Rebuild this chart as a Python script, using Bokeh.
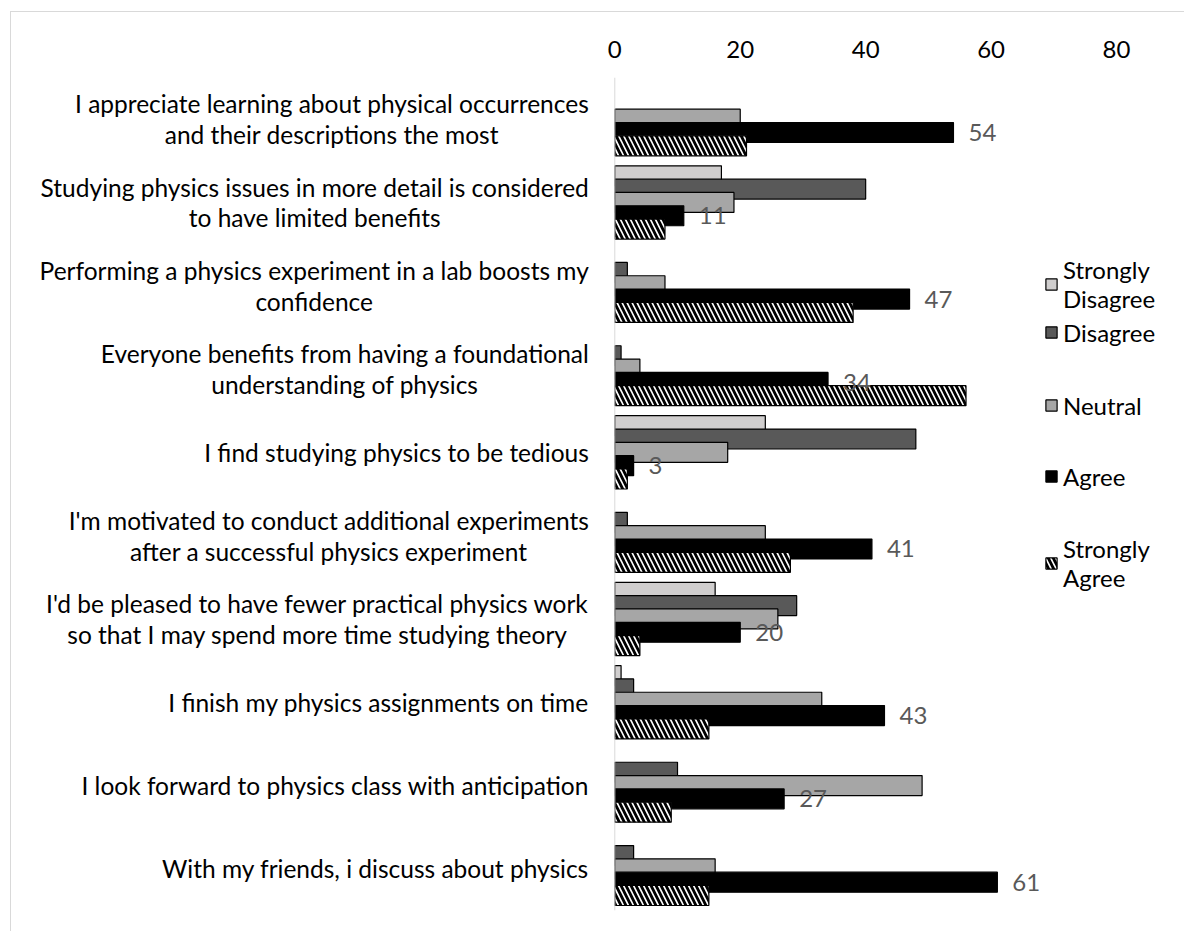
from bokeh.plotting import figure
from bokeh.models import (ColumnDataSource, FactorRange, Range1d, Span, FixedTicker,
                          Legend, LegendItem)
from bokeh.transform import dodge
from bokeh.core.properties import value
from bokeh.embed import file_html
from bokeh.resources import INLINE

# ---------------- data ----------------
categories = [
    "I appreciate learning about physical occurrences\nand their descriptions the most",
    "Studying physics issues in more detail is considered\nto have limited benefits",
    "Performing a physics experiment in a lab boosts my\nconfidence",
    "Everyone benefits from having a foundational\nunderstanding of physics",
    "I find studying physics to be tedious",
    "I'm motivated to conduct additional experiments\nafter a successful physics experiment",
    "I'd be pleased to have fewer practical physics work\nso that I may spend more time studying theory",
    "I finish my physics assignments on time",
    "I look forward to physics class with anticipation",
    "With my friends, i discuss about physics",
]
strongly_disagree = [0, 17, 0, 0, 24, 0, 16, 1, 0, 0]
disagree = [0, 40, 2, 1, 48, 2, 29, 3, 10, 3]
neutral = [20, 19, 8, 4, 18, 24, 26, 33, 49, 16]
agree = [54, 11, 47, 34, 3, 41, 20, 43, 27, 61]
strongly_agree = [21, 8, 38, 56, 2, 28, 4, 15, 9, 15]
series_names = ["Strongly\nDisagree", "Disagree", "Neutral", "Agree", "Strongly\nAgree"]
tick_values = [0, 20, 40, 60, 80]

# ---------------- styling ----------------
FONT = "Lato"
series_values = [strongly_disagree, disagree, neutral, agree, strongly_agree]
fills = ["#d0cece", "#595959", "#a6a6a6", "#000000", "#ffffff"]
hatches = [None, None, None, None, "\\"]
offsets = [0.32, 0.16, 0.0, -0.16, -0.32]
BAR_H = 0.24

p = figure(width=1174, height=920,
           x_range=Range1d(-96.2, 91.0),
           y_range=FactorRange(factors=categories[::-1]),
           x_axis_location="above", y_axis_location=None,
           output_backend="svg", toolbar_location=None,
           min_border_left=0, min_border_right=0,
           min_border_top=65, min_border_bottom=22,
           margin=(11, 0, 0, 10),
           styles={"border-left": "1px solid #d9d9d9", "border-top": "1px solid #d9d9d9"})
p.outline_line_color = None
p.grid.visible = False
p.background_fill_color = "white"
p.border_fill_color = "white"

ax = p.xaxis[0]
ax.ticker = FixedTicker(ticks=tick_values)
ax.axis_line_color = None
ax.major_tick_line_color = None
ax.minor_tick_line_color = None
ax.major_label_text_font = FONT
ax.major_label_text_font_size = "24px"
ax.major_label_text_color = "#000000"
ax.major_label_standoff = 14

# category axis line
p.add_layout(Span(location=0, dimension="height", line_color="#d9d9d9", line_width=1))

renderers = []
for name, vals, fc, hp, off in zip(series_names, series_values, fills, hatches, offsets):
    cats = [c for c, v in zip(categories, vals) if v > 0]
    vv = [v for v in vals if v > 0]
    src = ColumnDataSource(dict(cat=cats, val=vv))
    kw = dict(y=dodge("cat", off, range=p.y_range), left=0, right="val", height=BAR_H,
              source=src, fill_color=fc, line_color="#000000", line_width=1.2)
    if hp:
        kw.update(hatch_pattern=hp, hatch_color="#000000", hatch_scale=10, hatch_weight=2.8)
    r = p.hbar(**kw)
    renderers.append(r)

# data labels on "Agree"
lab_src = ColumnDataSource(dict(cat=categories, val=agree, txt=[str(v) for v in agree]))
p.text(x="val", y=dodge("cat", -0.16, range=p.y_range), text="txt", source=lab_src,
       x_offset=15, text_align="left", text_baseline="middle",
       text_font=value(FONT), text_font_size="24px", text_color="#595959")

# category labels
cat_src = ColumnDataSource(dict(cat=categories))
p.text(x=0, y="cat", text="cat", source=cat_src, x_offset=-26,
       anchor="center_right", text_align="center", text_baseline="middle",
       text_font=value(FONT), text_font_size="24.5px", text_line_height=1.06,
       text_color="#000000")

# legends (one per entry to mimic Excel's uneven spacing)
FRAME_BOTTOM_PAGE = 910
legend_centers = [284, 332, 405, 476, 563]
legend_heights = [58, 29, 29, 29, 58]
for r, name, c, h in zip(renderers, series_names, legend_centers, legend_heights):
    leg = Legend(items=[LegendItem(label=name, renderers=[r])],
                 location=(1033, FRAME_BOTTOM_PAGE - c - h / 2),
                 glyph_width=14, glyph_height=14, label_standoff=5,
                 label_text_font=FONT, label_text_font_size="24px",
                 label_text_color="#000000", padding=0, margin=0, spacing=0,
                 border_line_color=None, background_fill_alpha=0)
    p.add_layout(leg)

open("out.html", "w").write(file_html(p, INLINE))
